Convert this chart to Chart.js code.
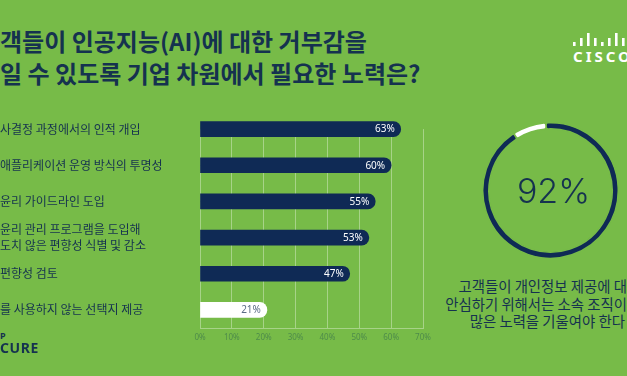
<!DOCTYPE html>
<html>
<head>
<meta charset="utf-8">
<script src="https://cdn.jsdelivr.net/npm/chart.js@4/dist/chart.umd.min.js"></script>
<style>
  html, body { margin: 0; padding: 0; }
  body { width: 627px; height: 376px; background: #77bb48; position: relative; overflow: hidden; font-family: "Noto Sans CJK KR", "Noto Sans", sans-serif; color: #15324f; }
  #bar { position: absolute; left: 0; top: 0; }
  #donut { position: absolute; left: 482px; top: 122px; }
  .t { position: absolute; white-space: nowrap; }
  .title { font-weight: 700; font-size: 24px; left: 0; line-height: 1; }
  .note { font-size: 14.4px; right: 0; line-height: 1; text-align: right; }
</style>
</head>
<body>
<div class="t title" id="title1" style="top:29px;"></div>
<div class="t title" id="title2" style="top:61px;"></div>

<div class="t" style="left:573px; top:46px; font: 700 15px 'Noto Sans', sans-serif; color:#fff; letter-spacing:3px;">CISCO</div>
<canvas id="logo" width="60" height="16" style="position:absolute; left:571px; top:31px;"></canvas>

<div class="t note" id="note1" style="top:279px; right:0;"></div>
<div class="t note" id="note2" style="top:297px; right:0;"></div>
<div class="t note" id="note3" style="top:314px; right:2px;"></div>

<div class="t" style="left:0; top:329px; font: 700 9px 'Noto Sans', sans-serif;">P</div>
<div class="t" style="left:0; top:338px; font: 700 14px 'Noto Sans', sans-serif; letter-spacing:0.6px;">CURE</div>

<canvas id="bar" width="627" height="376"></canvas>
<canvas id="donut" width="137" height="137"></canvas>

<script>
// ---- data ----
const titleLines = ["객들이 인공지능(AI)에 대한 거부감을", "일 수 있도록 기업 차원에서 필요한 노력은?"];
const categories = [
  "사결정 과정에서의 인적 개입",
  "애플리케이션 운영 방식의 투명성",
  "윤리 가이드라인 도입",
  ["윤리 관리 프로그램을 도입해", "도치 않은 편향성 식별 및 감소"],
  "편향성 검토",
  "를 사용하지 않는 선택지 제공"
];
const values = [63, 60, 55, 53, 47, 21];
const xTicks = [0, 10, 20, 30, 40, 50, 60, 70];
const donutValue = 92;
const donutRest = 8;
const noteLines = ["고객들이 개인정보 제공에 대", "안심하기 위해서는 소속 조직이", "많은 노력을 기울여야 한다"];

// ---- colours ----
const BG = "#77bb48";
const NAVY = "#0f2a55";
const GRID = "#a7d388";

document.getElementById("title1").textContent = titleLines[0];
document.getElementById("title2").textContent = titleLines[1];
noteLines.forEach((s, i) => document.getElementById("note" + (i + 1)).textContent = s);

// cisco logo bars (decoration)
(function () {
  const c = document.getElementById("logo").getContext("2d");
  c.fillStyle = "#fff";
  const hs = [4, 8, 13, 8, 4, 8, 13, 8, 4];
  hs.forEach((h, i) => { c.fillRect(2 + i * 7, 15 - h, 2.6, h); });
})();

const barColors = values.map((v, i) => i === values.length - 1 ? "#ffffff" : NAVY);
const labelColors = values.map((v, i) => i === values.length - 1 ? "#5b6b86" : "#ffffff");

const maskPlugin = {
  id: "mask",
  beforeDatasetsDraw(chart) {
    const { ctx, chartArea } = chart;
    const meta = chart.getDatasetMeta(0);
    const y0 = meta.data[0].y;
    ctx.save();
    ctx.fillStyle = BG;
    ctx.fillRect(chartArea.left - 2, chartArea.top - 2, chartArea.right - chartArea.left + 4, y0 - chartArea.top + 2);
    ctx.restore();
  }
};

const valueLabels = {
  id: "valueLabels",
  afterDatasetsDraw(chart) {
    const { ctx } = chart;
    const meta = chart.getDatasetMeta(0);
    ctx.save();
    ctx.font = "10px 'Noto Sans', sans-serif";
    ctx.textAlign = "right";
    ctx.textBaseline = "middle";
    meta.data.forEach((el, i) => {
      ctx.fillStyle = labelColors[i];
      ctx.fillText(values[i] + "%", el.x - 6, el.y + 0.5);
    });
    ctx.restore();
  }
};

new Chart(document.getElementById("bar"), {
  type: "bar",
  data: {
    labels: categories,
    datasets: [{
      data: values,
      backgroundColor: barColors,
      barThickness: 15,
      borderRadius: 8,
      borderSkipped: "start"
    }]
  },
  options: {
    indexAxis: "y",
    responsive: false,
    animation: false,
    layout: { padding: { left: 0, top: 111, right: 204, bottom: 0 } },
    plugins: { legend: { display: false }, tooltip: { enabled: false } },
    scales: {
      x: {
        min: 0, max: 70,
        afterBuildTicks(scale) { scale.ticks = xTicks.map(v => ({ value: v })); },
        afterFit(scale) { scale.height = 48; },
        grid: { color: GRID, lineWidth: 1, drawTicks: false },
        border: { display: true, color: GRID },
        ticks: {
          padding: 5,
          color: "#4e8c4a",
          font: { family: "'Noto Sans', sans-serif", size: 8 },
          callback: v => v + "%"
        }
      },
      y: {
        afterFit(scale) { scale.width = 200; },
        grid: { display: false },
        border: { display: false },
        ticks: {
          crossAlign: "far",
          padding: 0,
          color: "#15324f",
          font: { family: "'Noto Sans CJK KR', sans-serif", size: 12, lineHeight: 1.3 }
        }
      }
    }
  },
  plugins: [maskPlugin, valueLabels]
});

const centerText = {
  id: "centerText",
  afterDraw(chart) {
    const { ctx, chartArea } = chart;
    const cx = (chartArea.left + chartArea.right) / 2;
    const cy = (chartArea.top + chartArea.bottom) / 2;
    ctx.save();
    ctx.font = "300 34px Inter, Lato, 'Noto Sans', sans-serif";
    ctx.fillStyle = "#15324f";
    ctx.textAlign = "center";
    ctx.textBaseline = "middle";
    ctx.fillText(donutValue + "%", cx + 3, cy + 2);
    ctx.restore();
  }
};

new Chart(document.getElementById("donut"), {
  type: "doughnut",
  data: {
    datasets: [{
      data: [donutValue, donutRest],
      backgroundColor: [NAVY, "#ffffff"],
      borderColor: BG,
      borderWidth: 1.5,
      borderRadius: 2
    }]
  },
  options: {
    responsive: false,
    animation: false,
    rotation: -4,
    cutout: "91%",
    layout: { padding: 0 },
    plugins: { legend: { display: false }, tooltip: { enabled: false } }
  },
  plugins: [centerText]
});
</script>
</body>
</html>
